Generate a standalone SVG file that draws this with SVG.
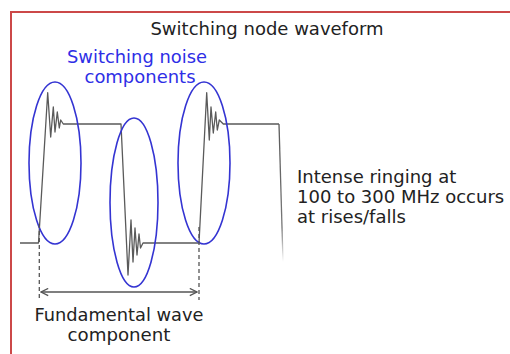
<svg xmlns="http://www.w3.org/2000/svg" width="510" height="354" viewBox="0 0 510 354">
<style>
.t{font-family:"DejaVu Sans","Liberation Sans",sans-serif;font-size:18px;fill:#222}
.s{font-size:17px}
.b{fill:#2e2ee6}
.wave{fill:none;stroke:#5a5a5a;stroke-width:1.3;stroke-linejoin:round}
.ell{fill:none;stroke:#3434d2;stroke-width:1.6}
.dash{stroke:#555;stroke-width:1.3;stroke-dasharray:4 3}
.arr{stroke:#555;stroke-width:1.5;fill:none}
</style>
<defs>
<linearGradient id="fade" gradientUnits="userSpaceOnUse" x1="0" y1="124" x2="0" y2="262">
<stop offset="0" stop-color="#5a5a5a"/>
<stop offset="0.75" stop-color="#777"/>
<stop offset="1" stop-color="#fff"/>
</linearGradient>
<marker id="ah" viewBox="0 0 10 10" refX="9" refY="5" markerWidth="9" markerHeight="9" markerUnits="userSpaceOnUse" orient="auto-start-reverse">
<path d="M1,1 L9,5 L1,9" fill="none" stroke="#555" stroke-width="1.4"/>
</marker>
</defs>
<rect x="11" y="12" width="520" height="360" fill="#fff" stroke="#cc4848" stroke-width="2"/>
<g id="title"><text class="t" x="267" y="35" text-anchor="middle">Switching node waveform</text></g>
<g id="waveform">
<path class="wave" d="M20,243 L38.5,243 L47.7,92.7 L50.7,137 L53.3,107 L55,132 L57.3,112 L59.3,128 L60.7,120 L63.3,124 L121,124 L128,275 L131,220 L133,262 L135,228 L137,255 L139,234 L140.5,248 L143,243 L199,243 L206.7,92.7 L209.3,140 L211,107 L213.3,133 L215.7,112 L217.3,130 L219.3,120 L223.3,124 L279,124"/>
<path d="M279,124 L283,262" fill="none" stroke="url(#fade)" stroke-width="1.3"/>
</g>
<g id="noise-ellipses">
<ellipse class="ell" cx="55" cy="163" rx="26" ry="81"/>
<ellipse class="ell" cx="134" cy="202.5" rx="24" ry="84.5"/>
<ellipse class="ell" cx="204" cy="163" rx="26" ry="81"/>
</g>
<g id="noise-label">
<text class="t s b" x="137" y="63" text-anchor="middle" textLength="140" lengthAdjust="spacingAndGlyphs">Switching noise</text>
<text class="t s b" x="140" y="83" text-anchor="middle" textLength="111" lengthAdjust="spacingAndGlyphs">components</text>
</g>
<g id="ringing-label">
<text class="t" x="297" y="183">Intense ringing at</text>
<text class="t" x="297" y="203">100 to 300 MHz occurs</text>
<text class="t" x="297" y="223">at rises/falls</text>
</g>
<g id="connectors">
<line class="dash" x1="39.3" y1="224" x2="39.3" y2="300"/>
<line class="dash" x1="199" y1="227" x2="199" y2="300"/>
<line class="arr" x1="41" y1="292" x2="197" y2="292" marker-start="url(#ah)" marker-end="url(#ah)"/>
</g>
<g id="fundamental-label">
<text class="t s" x="119" y="321" text-anchor="middle" textLength="169" lengthAdjust="spacingAndGlyphs">Fundamental wave</text>
<text class="t s" x="119" y="341" text-anchor="middle" textLength="103" lengthAdjust="spacingAndGlyphs">component</text>
</g>
</svg>
